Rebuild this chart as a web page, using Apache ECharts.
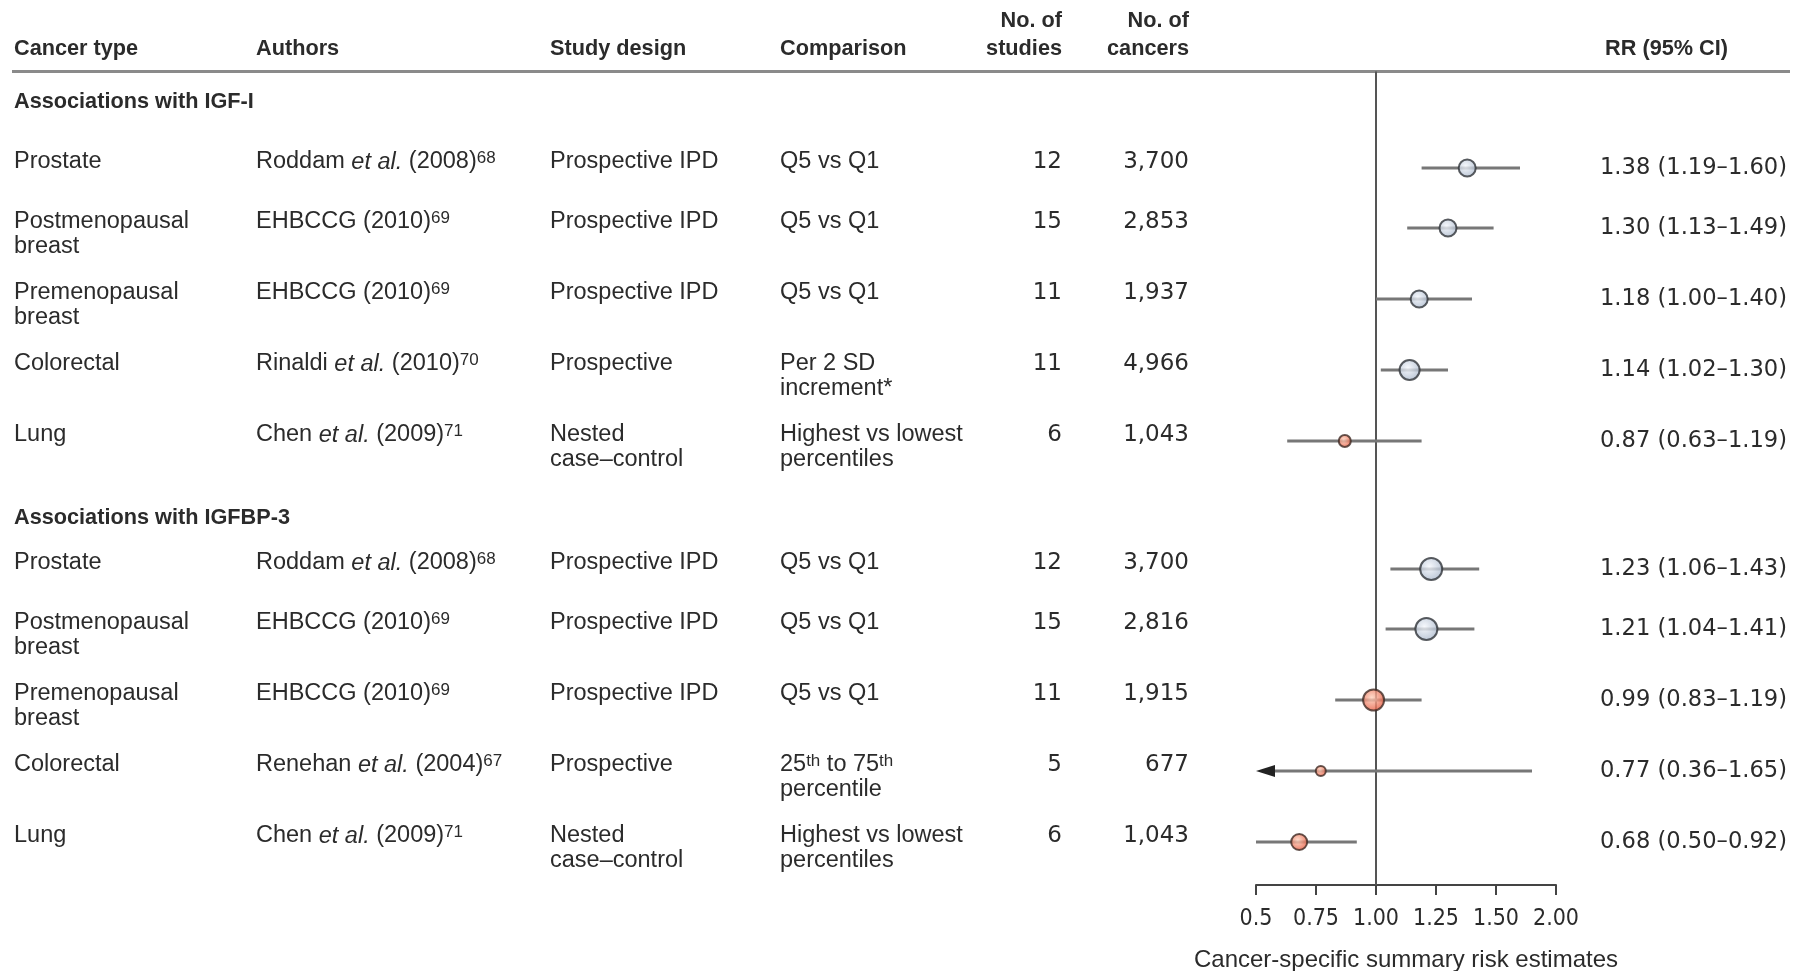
<!DOCTYPE html>
<html>
<head>
<meta charset="utf-8">
<script src="https://cdn.jsdelivr.net/npm/echarts@6/dist/echarts.min.js"></script>
<style>
html,body{margin:0;padding:0;background:#ffffff;}
#chart{width:1806px;height:971px;}
</style>
</head>
<body>
<div id="chart"></div>
<script>
// ================= DATA =================
const groupTitles = ['Associations with IGF-I', 'Associations with IGFBP-3'];
const rowGroup = [0, 0, 0, 0, 0, 1, 1, 1, 1, 1];
const cancerTypes = ['Prostate', 'Postmenopausal\nbreast', 'Premenopausal\nbreast', 'Colorectal', 'Lung',
                     'Prostate', 'Postmenopausal\nbreast', 'Premenopausal\nbreast', 'Colorectal', 'Lung'];
const authorNames = ['Roddam', 'EHBCCG', 'EHBCCG', 'Rinaldi', 'Chen', 'Roddam', 'EHBCCG', 'EHBCCG', 'Renehan', 'Chen'];
const authorEtAl = [true, false, false, true, true, true, false, false, true, true];
const studyYears = [2008, 2010, 2010, 2010, 2009, 2008, 2010, 2010, 2004, 2009];
const refNumbers = [68, 69, 69, 70, 71, 68, 69, 69, 67, 71];
const studyDesigns = ['Prospective IPD', 'Prospective IPD', 'Prospective IPD', 'Prospective', 'Nested\ncase–control',
                      'Prospective IPD', 'Prospective IPD', 'Prospective IPD', 'Prospective', 'Nested\ncase–control'];
const comparisons = ['Q5 vs Q1', 'Q5 vs Q1', 'Q5 vs Q1', 'Per 2 SD\nincrement*', 'Highest vs lowest\npercentiles',
                     'Q5 vs Q1', 'Q5 vs Q1', 'Q5 vs Q1', '25{sup|th} to 75{sup|th}\npercentile', 'Highest vs lowest\npercentiles'];
const nStudies = [12, 15, 11, 11, 6, 12, 15, 11, 5, 6];
const nCancers = [3700, 2853, 1937, 4966, 1043, 3700, 2816, 1915, 677, 1043];
const rrEstimate = [1.38, 1.30, 1.18, 1.14, 0.87, 1.23, 1.21, 0.99, 0.77, 0.68];
const ciLower    = [1.19, 1.13, 1.00, 1.02, 0.63, 1.06, 1.04, 0.83, 0.36, 0.50];
const ciUpper    = [1.60, 1.49, 1.40, 1.30, 1.19, 1.43, 1.41, 1.19, 1.65, 0.92];
const xTickLabels = ['0.5', '0.75', '1.00', '1.25', '1.50', '2.00'];
const headerLabels = ['Cancer type', 'Authors', 'Study design', 'Comparison', 'No. of\nstudies', 'No. of\ncancers', 'RR (95% CI)'];
const axisTitle = 'Cancer-specific summary risk estimates';

// ================= STYLE / LAYOUT =================
const markerSizes = [17, 17, 17, 20, 12, 22, 22, 21, 10, 16];
const W = 1806, H = 971;
const colX = [14, 256, 550, 780, 1062, 1189, 1787];
const headerX = [14, 256, 550, 780, 1062, 1189, 1728];
const colAlign = ['left', 'left', 'left', 'left', 'right', 'right', 'right'];
const ruleY = 71.5;
const headerCenterY = 49;
const headerLineH = 28;
const firstGroupY = 102;
const groupToRow = [60, 45];
const rowH1 = 60, rowH2 = 71, sectionExtra = 12;
const bodyLineH = 25;
const markerDy = 6;
const plotLeft = 1256, plotRight = 1556, axisY = 885;
const xMin = 0.5, xMax = 1.75, xStep = 0.25;

const TEXT = '#2b2b2b';
const FONT_BODY = '23.5px "Liberation Sans", Arial, sans-serif';
const FONT_BOLD = 'bold 21.7px "Liberation Sans", Arial, sans-serif';
const FONT_NUM = '23px "DejaVu Sans", Verdana, sans-serif';
const FONT_RR = '22.6px "DejaVu Sans", Verdana, sans-serif';

const richStyles = {
  i: { font: 'italic 23.5px "Liberation Sans", Arial, sans-serif', lineHeight: bodyLineH, fill: TEXT },
  sup: { font: '17px "Liberation Sans", Arial, sans-serif', lineHeight: 17, verticalAlign: 'top', fill: TEXT }
};

// ----- compute row layout from number of text lines -----
const nLines = s => s.split('\n').length;
const rowY = [], groupY = [];
let cursor = firstGroupY;
for (let i = 0; i < rrEstimate.length; i++) {
  if (i === 0 || rowGroup[i] !== rowGroup[i - 1]) {
    if (i > 0) cursor += sectionExtra;
    groupY.push(cursor);
    cursor += groupToRow[rowGroup[i]];
  }
  rowY.push(cursor);
  const lines = Math.max(nLines(cancerTypes[i]), nLines(studyDesigns[i]), nLines(comparisons[i]));
  cursor += lines > 1 ? rowH2 : rowH1;
}
const markerY = rowY.map(y => y + markerDy);

// ----- table cells -----
const cells = [];
function addCell(x, yTop, text, font, align, lh) {
  cells.push({ x, y: yTop, text, font, align, lh });
}
headerLabels.forEach((t, c) => {
  const lines = nLines(t);
  const top = headerCenterY - headerLineH / 2 - (lines - 1) * headerLineH;
  addCell(headerX[c], top, t, FONT_BOLD, colAlign[c], headerLineH);
});
groupTitles.forEach((t, g) => addCell(colX[0], groupY[g] - headerLineH / 2, t, FONT_BOLD, 'left', headerLineH));
const fmtInt = v => v.toLocaleString('en-US');
rrEstimate.forEach((rr, i) => {
  const top = rowY[i] - bodyLineH / 2;
  const author = authorNames[i] + (authorEtAl[i] ? ' {i|et al.}' : '') + ' (' + studyYears[i] + '){sup|' + refNumbers[i] + '}';
  addCell(colX[0], top, cancerTypes[i], FONT_BODY, 'left', bodyLineH);
  addCell(colX[1], top, author, FONT_BODY, 'left', bodyLineH);
  addCell(colX[2], top, studyDesigns[i], FONT_BODY, 'left', bodyLineH);
  addCell(colX[3], top, comparisons[i], FONT_BODY, 'left', bodyLineH);
  addCell(colX[4], top, String(nStudies[i]), FONT_NUM, 'right', bodyLineH);
  addCell(colX[5], top, fmtInt(nCancers[i]), FONT_NUM, 'right', bodyLineH);
  const rrText = rr.toFixed(2) + ' (' + ciLower[i].toFixed(2) + '–' + ciUpper[i].toFixed(2) + ')';
  addCell(colX[6], markerY[i] - bodyLineH / 2, rrText, FONT_RR, 'right', bodyLineH);
});

const blueFill = {
  type: 'radial', x: 0.42, y: 0.4, r: 0.62,
  colorStops: [{ offset: 0, color: '#f4f7fc' }, { offset: 1, color: '#a9b7cb' }]
};
const orangeFill = {
  type: 'radial', x: 0.42, y: 0.4, r: 0.62,
  colorStops: [{ offset: 0, color: '#ffd2bd' }, { offset: 1, color: '#e4553a' }]
};

const chart = echarts.init(document.getElementById('chart'), null, { renderer: 'canvas' });
chart.setOption({
  animation: false,
  backgroundColor: '#ffffff',
  grid: [
    { left: 0, top: 0, width: W, height: H, containLabel: false, outerBoundsMode: 'none' },
    { left: plotLeft, top: ruleY, width: plotRight - plotLeft, height: axisY - ruleY, containLabel: false, outerBoundsMode: 'none' }
  ],
  xAxis: [
    { gridIndex: 0, type: 'value', min: 0, max: W, show: false },
    {
      gridIndex: 1, type: 'value', min: xMin, max: xMax, interval: xStep,
      axisLine: { show: true, onZero: false, lineStyle: { color: '#444', width: 2 } },
      axisTick: { show: true, length: 10, inside: false, lineStyle: { color: '#444', width: 2 } },
      splitLine: { show: false },
      axisLabel: {
        margin: 22, color: TEXT, fontSize: 23, lineHeight: 24,
        fontFamily: '"Liberation Sans Narrow", "DejaVu Sans Condensed", sans-serif',
        formatter: v => xTickLabels[Math.round((v - xMin) / xStep)]
      },
      name: axisTitle, nameLocation: 'middle', nameGap: 63,
      nameTextStyle: { color: TEXT, fontSize: 24, fontFamily: '"Liberation Sans", Arial, sans-serif' }
    }
  ],
  yAxis: [
    { gridIndex: 0, type: 'value', min: 0, max: H, inverse: true, show: false },
    { gridIndex: 1, type: 'value', min: ruleY, max: axisY, inverse: true, show: false }
  ],
  graphic: [
    { type: 'line', shape: { x1: 12, y1: ruleY, x2: 1790, y2: ruleY }, style: { stroke: '#8a8a8a', lineWidth: 3 }, z: 1 }
  ],
  series: [
    {
      type: 'custom', name: 'table', coordinateSystem: 'cartesian2d', xAxisIndex: 0, yAxisIndex: 0,
      silent: true, clip: false,
      encode: { x: 0, y: 1 },
      data: cells.map(c => [c.x, c.y]),
      renderItem: (params, api) => {
        const c = cells[params.dataIndex];
        const p = api.coord([c.x, c.y]);
        return {
          type: 'text',
          style: {
            x: p[0], y: p[1], text: c.text, font: c.font, fill: TEXT,
            align: c.align, textAlign: c.align, verticalAlign: 'top', textVerticalAlign: 'top',
            lineHeight: c.lh, rich: richStyles
          }
        };
      }
    },
    {
      type: 'custom', name: 'ci', coordinateSystem: 'cartesian2d', xAxisIndex: 1, yAxisIndex: 1,
      silent: true, clip: false, z: 2,
      encode: { x: [0, 1], y: 2 },
      data: ciLower.map((lo, i) => [lo, ciUpper[i], markerY[i]]),
      renderItem: (params, api) => {
        const lo = api.value(0), hi = api.value(1), yv = api.value(2);
        const clipped = lo < xMin;
        const p1 = api.coord([Math.max(lo, xMin), yv]);
        const p2 = api.coord([Math.min(hi, xMax), yv]);
        const children = [{
          type: 'line',
          shape: { x1: p1[0] + (clipped ? 8 : 0), y1: p1[1], x2: p2[0], y2: p2[1] },
          style: { stroke: '#777777', lineWidth: 3 }
        }];
        if (clipped) {
          children.push({
            type: 'polygon',
            shape: { points: [[p1[0], p1[1]], [p1[0] + 19, p1[1] - 6], [p1[0] + 19, p1[1] + 6]] },
            style: { fill: '#222222' }
          });
        }
        return { type: 'group', children };
      }
    },
    {
      type: 'scatter', name: 'RR', xAxisIndex: 1, yAxisIndex: 1, z: 3, silent: true,
      data: rrEstimate.map((v, i) => ({
        value: [v, markerY[i]],
        symbolSize: markerSizes[i],
        itemStyle: {
          color: v < 1 ? orangeFill : blueFill,
          borderColor: v < 1 ? '#3e2a24' : '#2f3338',
          borderWidth: 2
        }
      })),
      markLine: {
        silent: true, symbol: 'none', z: 1,
        label: { show: false },
        lineStyle: { color: '#555555', width: 2, type: 'solid' },
        data: [{ xAxis: 1 }]
      }
    }
  ]
});
</script>
</body>
</html>
